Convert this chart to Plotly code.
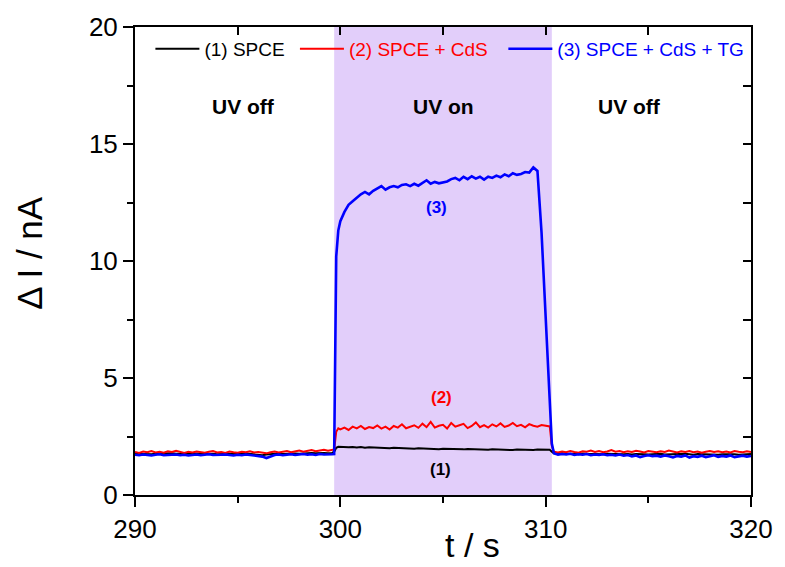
import plotly.graph_objects as go

# ---------------- data ----------------
t_s = [
    290.0, 290.2, 290.4, 290.6, 290.8, 291.0, 291.2, 291.4, 291.6, 291.8,
    292.0, 292.2, 292.4, 292.6, 292.8, 293.0, 293.2, 293.4, 293.6, 293.8,
    294.0, 294.2, 294.4, 294.6, 294.8, 295.0, 295.2, 295.4, 295.6, 295.8,
    296.0, 296.2, 296.4, 296.6, 296.8, 297.0, 297.2, 297.4, 297.6, 297.8,
    298.0, 298.2, 298.4, 298.6, 298.8, 299.0, 299.2, 299.4, 299.6,
    299.7, 299.8, 299.9,
    300.0, 300.2, 300.4, 300.6, 300.8, 301.0, 301.2, 301.4, 301.6, 301.8,
    302.0, 302.2, 302.4, 302.6, 302.8, 303.0, 303.2, 303.4, 303.6, 303.8,
    304.0, 304.2, 304.4, 304.6, 304.8, 305.0, 305.2, 305.4, 305.6, 305.8,
    306.0, 306.2, 306.4, 306.6, 306.8, 307.0, 307.2, 307.4, 307.6, 307.8,
    308.0, 308.2, 308.4, 308.6, 308.8, 309.0, 309.2, 309.4, 309.6, 309.8,
    310.0, 310.2,
    310.3, 310.4,
    310.6, 310.8, 311.0, 311.2, 311.4, 311.6, 311.8, 312.0, 312.2, 312.4,
    312.6, 312.8, 313.0, 313.2, 313.4, 313.6, 313.8, 314.0, 314.2, 314.4,
    314.6, 314.8, 315.0, 315.2, 315.4, 315.6, 315.8, 316.0, 316.2, 316.4,
    316.6, 316.8, 317.0, 317.2, 317.4, 317.6, 317.8, 318.0, 318.2, 318.4,
    318.6, 318.8, 319.0, 319.2, 319.4, 319.6, 319.8, 320.0,
]

spce = [
    1.76, 1.75, 1.77, 1.76, 1.74, 1.76, 1.77, 1.75, 1.76, 1.78,
    1.76, 1.75, 1.74, 1.76, 1.77, 1.75, 1.76, 1.75, 1.77, 1.76,
    1.74, 1.75, 1.77, 1.76, 1.75, 1.74, 1.76, 1.77, 1.75, 1.76,
    1.74, 1.70, 1.73, 1.75, 1.76, 1.77, 1.75, 1.76, 1.78, 1.77,
    1.76, 1.78, 1.77, 1.79, 1.78, 1.80, 1.79, 1.78, 1.80,
    1.85, 2.02, 2.06,
    2.05, 2.06, 2.04, 2.05, 2.03, 2.05, 2.02, 2.04, 2.03, 2.01,
    2.03, 2.02, 2.00, 2.02, 2.01, 1.99, 2.01, 2.00, 1.98, 2.00,
    1.99, 1.97, 1.99, 1.98, 1.96, 1.98, 1.97, 1.99, 1.96, 1.97,
    1.95, 1.97, 1.96, 1.94, 1.96, 1.95, 1.93, 1.95, 1.94, 1.92,
    1.94, 1.93, 1.92, 1.94, 1.93, 1.91, 1.93, 1.92, 1.94, 1.93,
    1.92, 1.93,
    1.85, 1.78,
    1.76, 1.78, 1.75, 1.77, 1.76, 1.74, 1.77, 1.76, 1.75, 1.77,
    1.76, 1.74, 1.76, 1.75, 1.77, 1.76, 1.74, 1.75, 1.73, 1.75,
    1.76, 1.74, 1.73, 1.75, 1.74, 1.76, 1.73, 1.74, 1.75, 1.73,
    1.74, 1.76, 1.74, 1.72, 1.75, 1.74, 1.73, 1.75, 1.74, 1.72,
    1.74, 1.75, 1.73, 1.74, 1.72, 1.74, 1.73, 1.75,
]

spce_cds = [
    1.84, 1.80, 1.86, 1.83, 1.88, 1.82, 1.85, 1.81, 1.87, 1.84,
    1.89, 1.83, 1.80, 1.85, 1.82, 1.86, 1.83, 1.81, 1.85, 1.88,
    1.82, 1.84, 1.80, 1.86, 1.83, 1.81, 1.85, 1.83, 1.87, 1.82,
    1.84, 1.80, 1.78, 1.83, 1.86, 1.82, 1.85, 1.88, 1.83, 1.86,
    1.90, 1.85, 1.88, 1.92, 1.87, 1.90, 1.93, 1.89, 1.91,
    1.95, 2.70, 2.85,
    2.80, 2.88, 2.78, 2.92, 2.85, 2.95, 2.82, 2.90, 2.86, 2.97,
    2.84, 2.92, 2.80, 2.95, 2.88, 3.02, 2.85, 2.93, 2.98, 2.87,
    3.05, 2.90, 3.12, 2.88, 2.96, 3.00, 2.84, 3.08, 2.92, 2.98,
    3.04, 2.86, 2.95, 3.10, 2.90, 2.99, 2.88, 3.02, 2.93, 3.06,
    2.91, 2.97, 3.08, 2.94, 3.00, 2.89, 3.03, 2.96, 2.92, 2.99,
    2.95, 2.93,
    2.10, 1.85,
    1.82, 1.86, 1.83, 1.88, 1.84, 1.81, 1.87, 1.85, 1.90, 1.84,
    1.88, 1.83, 1.86, 1.92, 1.85, 1.88, 1.83, 1.87, 1.84, 1.89,
    1.86, 1.82, 1.88, 1.85, 1.83, 1.87, 1.84, 1.90, 1.85, 1.82,
    1.87, 1.84, 1.88, 1.83, 1.86, 1.81, 1.85, 1.88, 1.84, 1.87,
    1.83, 1.86, 1.82, 1.88, 1.85, 1.83, 1.87, 1.84,
]

spce_cds_tg = [
    1.72, 1.70, 1.73, 1.71, 1.69, 1.72, 1.74, 1.70, 1.72, 1.71,
    1.73, 1.70, 1.72, 1.69, 1.71, 1.73, 1.70, 1.72, 1.74, 1.71,
    1.70, 1.72, 1.73, 1.71, 1.69, 1.72, 1.70, 1.73, 1.71, 1.70,
    1.68, 1.64, 1.58, 1.66, 1.71, 1.73, 1.70, 1.72, 1.74, 1.71,
    1.73, 1.75, 1.72, 1.74, 1.71, 1.75, 1.73, 1.72, 1.74,
    1.75, 10.2, 11.3,
    11.7, 12.1, 12.4, 12.55, 12.7, 12.85, 12.95, 12.85, 13.0, 13.1,
    13.2, 13.05, 13.15, 13.2, 13.15, 13.25, 13.28, 13.2, 13.3, 13.22,
    13.35, 13.45, 13.3, 13.38, 13.32, 13.35, 13.4, 13.5, 13.55, 13.45,
    13.6, 13.5, 13.62, 13.52, 13.6, 13.48, 13.6, 13.55, 13.65, 13.58,
    13.7, 13.62, 13.75, 13.68, 13.72, 13.8, 13.78, 14.0, 13.85, 11.2,
    7.4, 3.7,
    2.2, 1.78,
    1.72, 1.75, 1.73, 1.76, 1.71, 1.74, 1.72, 1.75, 1.70, 1.73,
    1.71, 1.74, 1.70, 1.72, 1.69, 1.73, 1.68, 1.71, 1.65, 1.69,
    1.62, 1.67, 1.70, 1.66, 1.68, 1.64, 1.69, 1.66, 1.61, 1.67,
    1.64, 1.69, 1.60, 1.66, 1.63, 1.68, 1.62, 1.66, 1.70, 1.63,
    1.67, 1.64, 1.69, 1.62, 1.66, 1.68, 1.64, 1.67,
]

series_names = ["(1) SPCE", "(2) SPCE + CdS", "(3) SPCE + CdS + TG"]
series_colors = ["#000000", "#FF0000", "#0000FF"]
series_widths = [2, 2, 2.6]
legend_pad = ["\u00a0", "\u00a0\u00a0", ""]

uv_on_start = 299.7
uv_on_end = 310.3

region_labels = ["UV off", "UV on", "UV off"]
region_label_x = [295.3, 305.0, 314.1]
region_label_y = 16.6

curve_labels = ["(1)", "(2)", "(3)"]
curve_label_x = [304.9, 304.95, 304.7]
curve_label_y = [1.1, 4.15, 12.3]

FONT = "Liberation Sans, Arial, sans-serif"

# ---------------- figure ----------------
fig = go.Figure()

fig.add_shape(type="rect", xref="x", yref="paper",
              x0=uv_on_start, x1=uv_on_end, y0=0, y1=1,
              fillcolor="rgb(226,206,250)", line=dict(width=0), layer="below")

for name, ys, col, w, pad in zip(series_names, [spce, spce_cds, spce_cds_tg],
                                 series_colors, series_widths, legend_pad):
    fig.add_trace(go.Scatter(
        x=t_s, y=ys, mode="lines",
        name="<span style='color:%s'>%s%s</span>" % (col, name, pad),
        line=dict(color=col, width=w),
    ))

# dummy trace to anchor mirrored axes
fig.add_trace(go.Scatter(x=[None], y=[None], xaxis="x2", yaxis="y2",
                         showlegend=False, hoverinfo="skip"))

for txt, x in zip(region_labels, region_label_x):
    fig.add_annotation(x=x, y=region_label_y, text="<b>%s</b>" % txt,
                       showarrow=False, font=dict(family=FONT, size=21, color="black"))

for txt, x, y, col in zip(curve_labels, curve_label_x, curve_label_y, series_colors):
    fig.add_annotation(x=x, y=y, text="<b>%s</b>" % txt, showarrow=False,
                       font=dict(family=FONT, size=17, color=col))

# axis titles
fig.add_annotation(xref="paper", yref="paper", x=(475 - 135) / 620, y=-(545 - 495) / 470,
                   text="t / s", showarrow=False, yanchor="middle", xanchor="center",
                   font=dict(family=FONT, size=34, color="black"))
fig.add_annotation(xref="paper", yref="paper", x=-(135 - 28) / 620, y=(495 - 252) / 470,
                   text="Δ I / nA", showarrow=False, textangle=-90,
                   yanchor="middle", xanchor="center",
                   font=dict(family=FONT, size=35, color="black"))

axis_common = dict(showgrid=False, zeroline=False, showline=True,
                   linecolor="black", linewidth=2, tickcolor="black", tickwidth=2)

fig.update_layout(
    width=785, height=567,
    margin=dict(l=135, r=30, t=25, b=72),
    paper_bgcolor="white", plot_bgcolor="white",
    font=dict(family=FONT, color="black"),
    showlegend=True,
    legend=dict(orientation="h", x=0.025, y=(495 - 47) / 470,
                xanchor="left", yanchor="middle",
                bgcolor="rgba(0,0,0,0)", font=dict(family=FONT, size=19),
                itemwidth=44, tracegroupgap=0),
    xaxis=dict(range=[290, 320], tickvals=[290, 300, 310, 320], ticks="outside",
               ticklen=10, tickfont=dict(family=FONT, size=26),
               minor=dict(tickvals=[295, 305, 315], ticks="outside", ticklen=6,
                          tickcolor="black", tickwidth=2),
               **axis_common),
    yaxis=dict(range=[0, 20], tickvals=[0, 5, 10, 15, 20], ticks="outside",
               ticklen=10, tickfont=dict(family=FONT, size=26),
               minor=dict(tickvals=[2.5, 7.5, 12.5, 17.5], ticks="outside", ticklen=6,
                          tickcolor="black", tickwidth=2),
               **axis_common),
    xaxis2=dict(range=[290, 320], overlaying="x", side="top", anchor="y2",
                tickvals=[295, 300, 305, 310, 315], ticks="inside", ticklen=8,
                showticklabels=False, **axis_common),
    yaxis2=dict(range=[0, 20], overlaying="y", side="right", anchor="x2",
                tickvals=[2.5, 5, 7.5, 10, 12.5, 15, 17.5], ticks="inside", ticklen=8,
                showticklabels=False, **axis_common),
)

fig.write_html("out.html")
